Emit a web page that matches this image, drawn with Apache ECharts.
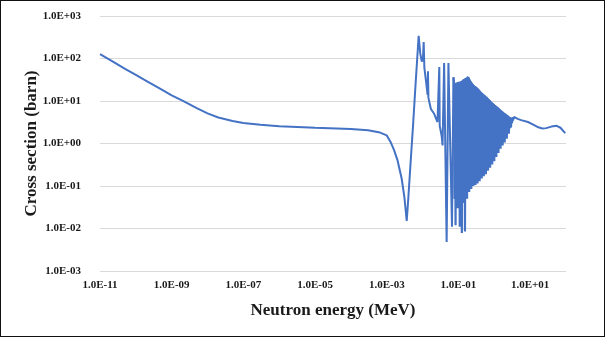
<!DOCTYPE html>
<html>
<head>
<meta charset="utf-8">
<script src="https://cdn.jsdelivr.net/npm/echarts@6/dist/echarts.min.js"></script>
<style>
  html, body { margin: 0; padding: 0; background: #fff; }
  #frame { width: 605px; height: 337px; box-sizing: border-box; border: 1px solid #111; }
  #container { width: 603px; height: 335px; }
</style>
</head>
<body>
<div id="frame"><div id="container"></div></div>
<script>
// energies in MeV, cross sections in barn

// thermal / 1/v region and the first interference dip
var lowEnergy = [1e-11, 2e-11, 5e-11, 1e-10, 2e-10, 5e-10, 1e-9, 2e-9, 5e-9, 1e-8, 2e-8, 5e-8,
    1e-7, 3e-7, 1e-6, 1e-5, 1e-4, 3e-4, 6e-4, 1e-3, 1.3e-3, 1.6e-3, 2e-3, 2.6e-3, 3.1e-3, 3.6e-3];
var lowXs = [126, 90, 57, 41, 29.5, 19, 13.6, 10.2, 6.8, 5.1, 4.1, 3.4,
    3.05, 2.75, 2.55, 2.35, 2.2, 2.05, 1.85, 1.55, 1.05, 0.7, 0.4, 0.15, 0.055, 0.015];

// big resonance and first isolated resonances
var resEnergy = [3.98e-3, 4.68e-3, 5.4e-3, 6.3e-3, 7.76e-3, 8.6e-3, 9.5e-3, 1.02e-2, 1.07e-2, 1.12e-2,
    1.25e-2, 1.38e-2, 1.41e-2, 1.45e-2, 1.7e-2, 2.1e-2, 2.6e-2, 0.0285, 0.0292, 0.030,
    0.034, 0.036, 0.0398, 0.0468, 0.0525, 0.066, 0.0724];
var resXs = [0.05, 0.42, 2.6, 22, 340, 130, 85, 95, 245, 60,
    28, 14, 50, 12, 6.5, 5, 3.2, 2.9, 63, 2.6,
    1.5, 0.9, 78, 0.0048, 78, 0.011, 36];

// dense resolved resonance band (peak, valley, peak, ...)
var denseEnergy = [0.075, 0.0776, 0.0802, 0.083, 0.0858, 0.0887, 0.0918, 0.095, 0.0982, 0.1016,
    0.105, 0.1087, 0.1124, 0.1162, 0.1202, 0.1243, 0.1286, 0.133, 0.1375, 0.1422,
    0.147, 0.152, 0.1572, 0.1626, 0.1682, 0.174, 0.18, 0.186, 0.1924, 0.199,
    0.206, 0.213, 0.22, 0.2276, 0.2354, 0.2434, 0.2518, 0.2604, 0.2692, 0.2784,
    0.288, 0.298, 0.308, 0.3186, 0.3294, 0.3406, 0.3522, 0.3642, 0.3766, 0.3896,
    0.403, 0.4166, 0.431, 0.4456, 0.461, 0.4766, 0.493, 0.51, 0.527, 0.545,
    0.564, 0.583, 0.603, 0.624, 0.645, 0.667, 0.69, 0.713, 0.738, 0.763,
    0.789, 0.816, 0.844, 0.873, 0.902, 0.933, 0.965, 0.998, 1.032, 1.067,
    1.104, 1.141, 1.18, 1.22, 1.262, 1.305, 1.35, 1.396, 1.443, 1.493,
    1.543, 1.596, 1.65, 1.707, 1.765, 1.825, 1.887, 1.952, 2.018, 2.087,
    2.158, 2.231, 2.307, 2.385, 2.466, 2.55, 2.637, 2.726, 2.819, 2.915,
    3.014, 3.116, 3.222, 3.332];
var denseXs = [27, 0.05, 26, 0.012, 26, 0.2, 27, 0.03, 27.5, 0.5,
    28, 0.011, 28, 0.08, 29, 0.0078, 30, 0.3, 32, 0.04,
    33, 0.0085, 34, 0.2, 35, 0.05, 37, 0.4, 36, 0.072,
    32, 0.1, 29, 0.085, 27, 0.13, 25, 0.1, 23, 0.16,
    22.5, 0.105, 21.5, 0.14, 20.5, 0.115, 19.5, 0.18, 18.5, 0.13,
    17, 0.17, 16, 0.15, 15.2, 0.24, 14.5, 0.17, 13.8, 0.22,
    13, 0.19, 12.5, 0.3, 11.8, 0.23, 11.2, 0.3, 10.5, 0.27,
    9.8, 0.4, 9.3, 0.32, 8.8, 0.42, 8.5, 0.38, 8.0, 0.6,
    7.7, 0.48, 7.3, 0.65, 7.0, 0.6, 6.7, 0.9, 6.3, 0.75,
    6.0, 1.0, 5.7, 0.9, 5.5, 1.25, 5.2, 1.05, 5.0, 1.4,
    4.8, 1.3, 4.6, 1.8, 4.4, 1.7, 4.2, 2.3, 4.0, 2.4,
    3.95, 3.0, 4.1, 3.5];

// fast region tail
var tailEnergy = [3.55, 4.5, 5.6, 8.7, 10.7, 16, 22, 28, 39, 55, 70, 95];
var tailXs = [4.2, 3.8, 3.55, 3.2, 2.95, 2.45, 2.25, 2.3, 2.5, 2.6, 2.35, 1.75];

function toPairs(es, xs) {
    var out = [];
    for (var i = 0; i < es.length; i++) {
        out.push([es[i], xs[i]]);
    }
    return out;
}

var lowPart = [].concat(toPairs(lowEnergy, lowXs), toPairs(resEnergy, resXs));
var bandPart = toPairs(denseEnergy, denseXs);
var tailPart = [bandPart[bandPart.length - 1]].concat(toPairs(tailEnergy, tailXs));
bandPart.unshift(lowPart[lowPart.length - 1]);

// outline of the solid core of the band: peaks on top, and on the bottom
// the shallowest of neighbouring valleys (where the strokes overlap)
function bandOutline(api) {
    var top = [], bottom = [];
    for (var i = 0; i < denseEnergy.length; i++) {
        if (i % 2 === 0) {
            top.push(api.coord([denseEnergy[i], denseXs[i]]));
        } else {
            var lo = denseXs[i];
            if (i >= 2) lo = Math.max(lo, denseXs[i - 2]);
            if (i + 2 < denseXs.length) lo = Math.max(lo, denseXs[i + 2]);
            bottom.push(api.coord([denseEnergy[i], lo]));
        }
    }
    return top.concat(bottom.reverse());
}

// Excel style "1.0E+03"
function sciLabel(v) {
    var e = Math.round(Math.log10(v));
    var a = Math.abs(e);
    return '1.0E' + (e < 0 ? '-' : '+') + (a < 10 ? '0' + a : a);
}

var labelFont = {
    fontFamily: 'Liberation Serif',
    fontWeight: 'bold',
    fontSize: 11,
    color: '#1a1a1a'
};

var lineColor = '#4472c4';

var dom = document.getElementById('container');
var myChart = echarts.init(dom, null, { renderer: 'canvas' });

var option = {
    animation: false,
    grid: {
        left: 99,
        right: 38,
        top: 15,
        bottom: 65,
        outerBoundsMode: 'none'
    },
    xAxis: {
        type: 'log',
        logBase: 10,
        min: 1e-11,
        max: 1e2,
        interval: 1,
        name: 'Neutron energy (MeV)',
        nameLocation: 'middle',
        nameGap: 31,
        nameMoveOverlap: false,
        nameTextStyle: {
            fontFamily: 'Liberation Serif',
            fontWeight: 'bold',
            fontSize: 17,
            color: '#1a1a1a'
        },
        axisLine: { show: false },
        axisTick: { show: false },
        splitLine: { show: false },
        axisLabel: Object.assign({
            margin: 9,
            formatter: function (v) {
                var e = Math.round(Math.log10(v));
                // only every second decade is labelled
                return Math.abs(e) % 2 === 1 ? sciLabel(v) : '';
            }
        }, labelFont)
    },
    yAxis: {
        type: 'log',
        logBase: 10,
        min: 1e-3,
        max: 1e3,
        name: 'Cross section (barn)',
        nameLocation: 'middle',
        nameGap: 60,
        nameMoveOverlap: false,
        nameTextStyle: {
            fontFamily: 'Liberation Serif',
            fontWeight: 'bold',
            fontSize: 17,
            color: '#1a1a1a'
        },
        axisLine: { show: false },
        axisTick: { show: false },
        splitLine: { show: true, lineStyle: { color: '#d9d9d9', width: 1 } },
        axisLabel: Object.assign({
            margin: 19,
            formatter: sciLabel
        }, labelFont)
    },
    series: [
        {
            // solid fill under the tight zigzag
            type: 'custom',
            silent: true,
            z: 1,
            data: [[1, 1]],
            renderItem: function (params, api) {
                return {
                    type: 'polygon',
                    shape: { points: bandOutline(api) },
                    style: { fill: lineColor, stroke: lineColor, lineWidth: 1 }
                };
            }
        },
        {
            type: 'line',
            z: 2,
            data: lowPart,
            symbol: 'none',
            lineStyle: { color: lineColor, width: 2 }
        },
        {
            type: 'line',
            z: 2,
            data: bandPart,
            symbol: 'none',
            lineStyle: { color: lineColor, width: 2.2 }
        },
        {
            type: 'line',
            z: 2,
            data: tailPart,
            symbol: 'none',
            lineStyle: { color: lineColor, width: 2 }
        }
    ]
};

myChart.setOption(option);
window.addEventListener('resize', myChart.resize);
</script>
</body>
</html>
